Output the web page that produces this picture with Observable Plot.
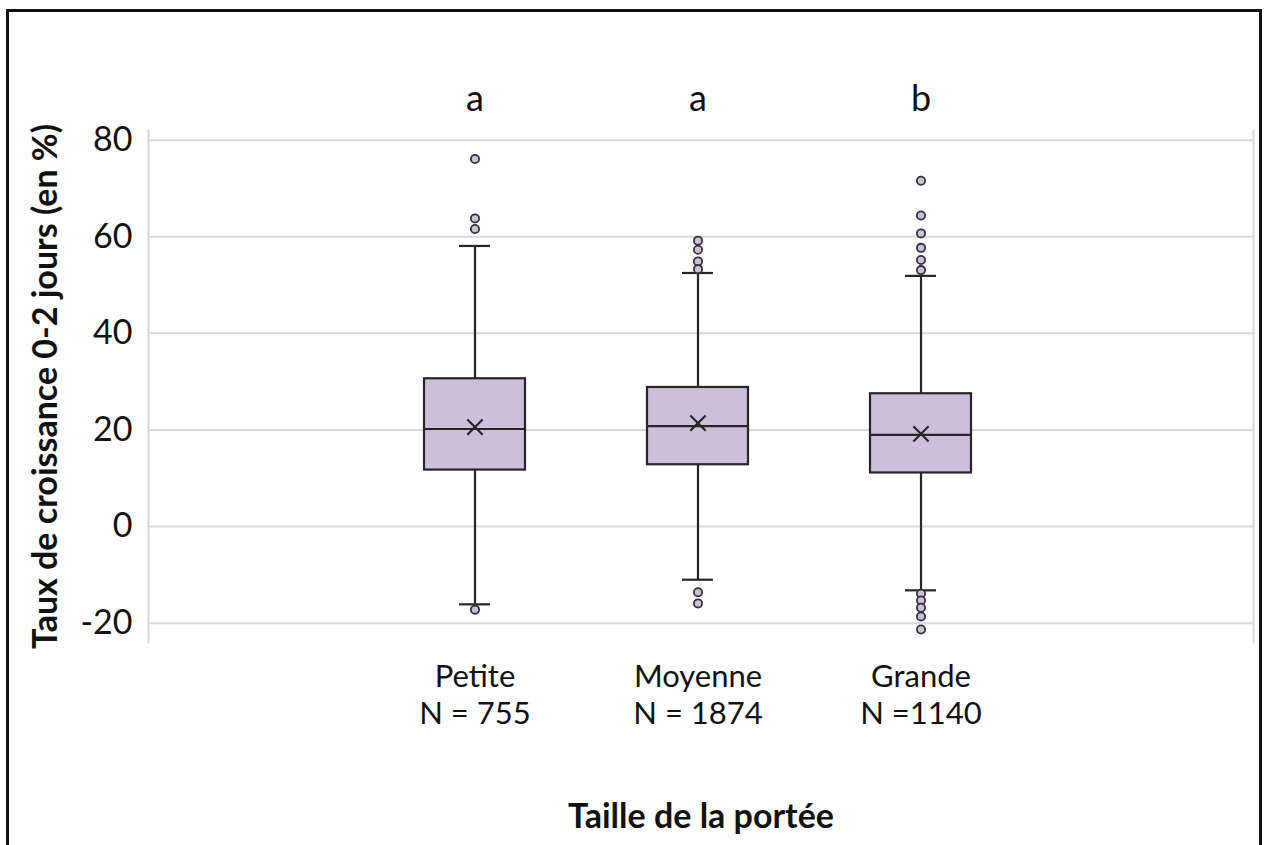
<!DOCTYPE html>
<html>
<head>
<meta charset="utf-8">
<script src="https://cdn.jsdelivr.net/npm/d3@7"></script>
<script src="https://cdn.jsdelivr.net/npm/@observablehq/plot@0.6"></script>
<style>
  html, body { margin: 0; padding: 0; background: #fff; overflow: hidden; }
  #wrap { position: relative; width: 1269px; height: 845px; }
  #border { position: absolute; left: 6px; top: 9px; width: 1256px; height: 900px; border: 3px solid #111; box-sizing: border-box; pointer-events: none; }
  svg { font-family: Lato, "Open Sans", sans-serif; }
</style>
</head>
<body>
<div id="wrap"><div id="border"></div></div>
<script>
// ---- Data ----
const categories = ["Petite", "Moyenne", "Grande"];
const counts = ["N = 755", "N = 1874", "N =1140"];
const groupLetters = ["a", "a", "b"];
const q1 = [11.7, 12.8, 11.1];
const median = [20.2, 20.8, 19.0];
const q3 = [30.6, 28.8, 27.5];
const mean = [20.6, 21.4, 19.2];
const whiskerLow = [-16.1, -11.0, -13.2];
const whiskerHigh = [58.1, 52.5, 51.9];
const outliersPetite = [76.1, 63.8, 61.6, -17.2];
const outliersMoyenne = [59.2, 57.3, 54.9, 53.3, -13.6, -15.9];
const outliersGrande = [71.6, 64.4, 60.7, 57.7, 55.2, 53.1, -13.9, -15.3, -16.8, -18.6, -21.3];
const yTicks = [-20, 0, 20, 40, 60, 80];

// ---- Build tables ----
const stats = categories.map((c, i) => ({
  cat: c, q1: q1[i], median: median[i], q3: q3[i], mean: mean[i],
  lo: whiskerLow[i], hi: whiskerHigh[i], letter: groupLetters[i]
}));
const outlierLists = [outliersPetite, outliersMoyenne, outliersGrande];
const outliers = outlierLists.flatMap((arr, i) => arr.map(v => ({cat: categories[i], value: v})));
const labelOf = Object.fromEntries(categories.map((c, i) => [c, c + "\n" + counts[i]]));

const fill = "#cbbfda";
const ink = "#262626";

const chart = Plot.plot({
  width: 1269,
  height: 845,
  marginLeft: 148,
  marginRight: 16,
  marginTop: 130,
  marginBottom: 203,
  style: {fontFamily: "Lato, 'Open Sans', sans-serif", background: "transparent", color: "#111"},
  x: {domain: categories, paddingInner: 0.548, paddingOuter: 1.2465, align: 0.495, label: null},
  y: {domain: [-24, 82], label: null},
  marks: [
    Plot.gridY(yTicks, {stroke: "#d9d9d9", strokeOpacity: 1, strokeWidth: 2}),
    Plot.frame({anchor: "left", stroke: "#d9d9d9", strokeWidth: 2}),
    Plot.frame({anchor: "right", stroke: "#d9d9d9", strokeWidth: 2}),
    Plot.axisY(yTicks, {tickSize: 0, tickPadding: 16, fontSize: 34, tickFormat: d => String(d), label: null}),
    Plot.axisX({tickSize: 0, tickPadding: 18, fontSize: 31, lineHeight: 1.2, tickFormat: d => labelOf[d], label: null}),
    Plot.ruleX(stats, {x: "cat", y1: "lo", y2: "hi", stroke: ink, strokeWidth: 2.2}),
    Plot.tickY(stats, {x: "cat", y: "lo", stroke: ink, strokeWidth: 2.2, insetLeft: 35, insetRight: 35}),
    Plot.tickY(stats, {x: "cat", y: "hi", stroke: ink, strokeWidth: 2.2, insetLeft: 35, insetRight: 35}),
    Plot.barY(stats, {x: "cat", y1: "q1", y2: "q3", fill: fill, stroke: ink, strokeWidth: 2.2}),
    Plot.tickY(stats, {x: "cat", y: "median", stroke: ink, strokeWidth: 2.2}),
    Plot.dot(stats, {x: "cat", y: "mean", symbol: "times", r: 7, stroke: ink, strokeWidth: 2.2}),
    Plot.dot(outliers, {x: "cat", y: "value", r: 4.1, fill: fill, stroke: "#333", strokeWidth: 1.8}),
    Plot.text(stats, {x: "cat", text: "letter", frameAnchor: "top", lineAnchor: "middle", dy: -31, fontSize: 36, fill: "#111"}),
    Plot.text(["Taille de la portée"], {frameAnchor: "bottom", lineAnchor: "middle", dy: 175, fontSize: 34, fontWeight: "bold", fill: "#111"}),
    Plot.text(["Taux de croissance 0-2 jours (en %)"], {frameAnchor: "left", textAnchor: "middle", lineAnchor: "middle", dx: -102, rotate: -90, fontSize: 34, fontWeight: "bold", fill: "#111"})
  ]
});
document.getElementById("wrap").prepend(chart);
</script>
</body>
</html>
